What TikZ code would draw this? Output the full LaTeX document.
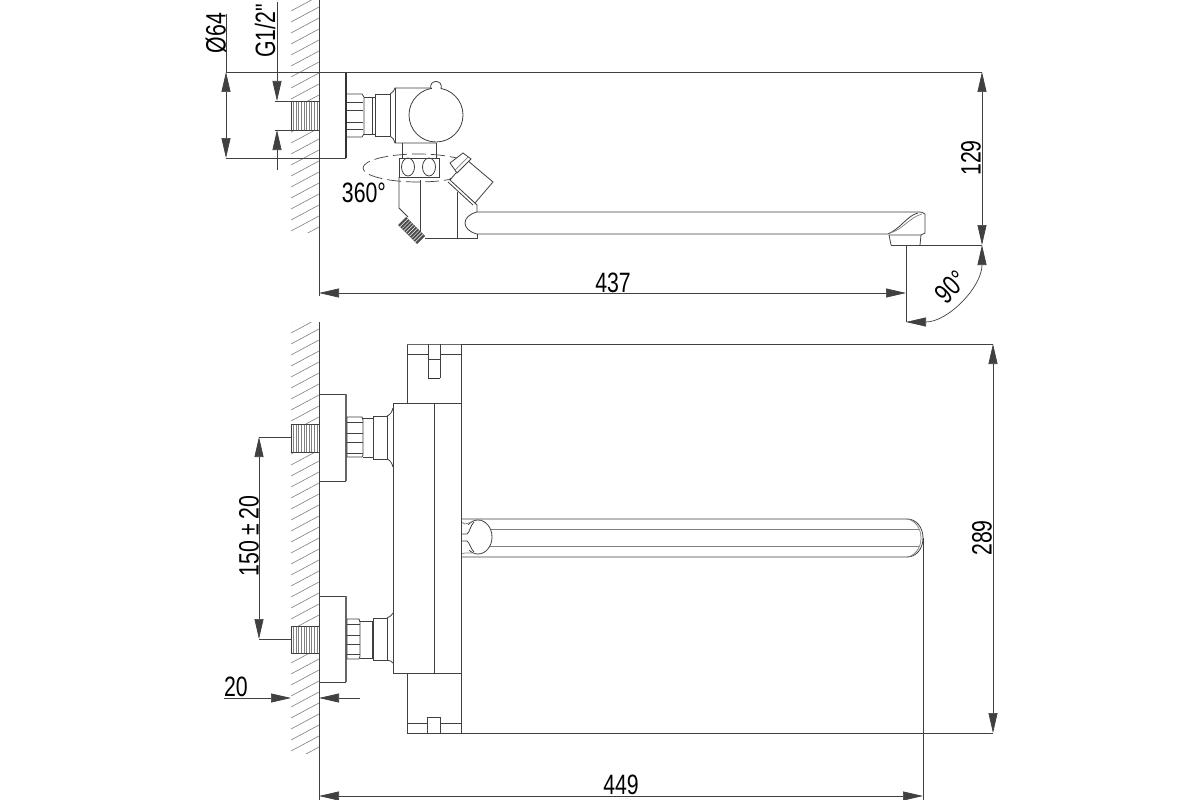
\documentclass[tikz,border=0pt]{standalone}
\usepackage{fontspec}
\newfontfamily\dimfont[FakeStretch=0.76]{Liberation Sans}
\usetikzlibrary{arrows.meta,calc}
\definecolor{inkline}{gray}{0.25}
\tikzset{
  partline/.style={draw=inkline,line width=0.8pt},
  lightline/.style={draw=black!50,line width=0.7pt},
  heavyline/.style={draw=black!80,line width=1.5pt},
  hatchline/.style={draw=black!50,line width=0.6pt},
  dimline/.style={draw=inkline,line width=0.7pt},
  dimboth/.style={dimline,{Triangle[length=20pt,width=9pt]}-{Triangle[length=20pt,width=9pt]}},
  dimend/.style={dimline,-{Triangle[length=20pt,width=9pt]}},
  dimtext/.style={inner sep=0pt,text=black,font=\dimfont\fontsize{28}{28}\selectfont},
}
% wall hatching between two heights
\newcommand{\wallhatch}[2]{
  \begin{scope}
    \clip (291,#1) rectangle (319,#2);
    \foreach \hi in {0,...,45}
      \draw[hatchline] (291,#1+11*\hi) -- (319,#1+11*\hi-15);
  \end{scope}
}
% threaded stub in the wall
\newcommand{\threadstub}[2]{
  \fill[white] (291,#1) rectangle (319,#2);
  \foreach \ti in {1,...,10}
    \draw[lightline] (291+2.6*\ti,#1) -- (291+2.6*\ti,#2);
  \draw[partline] (291,#1) rectangle (319,#2);
}
\begin{document}
\begin{tikzpicture}[x=1pt,y=-1pt]
\useasboundingbox (0,0) rectangle (1200,800);
\fill[white] (0,0) rectangle (1200,800);

% top view: wall
\wallhatch{0}{232}
\threadstub{101}{130}
\coordinate (wallT) at (319,0);
\coordinate (wallB) at (319,296);
\draw[partline] (wallT) -- (wallB);

% top view: plate and extension lines
\draw[partline] (319,158) -- (346,158);
\draw[heavyline] (346,72) -- (346,158);
\coordinate (topL) at (226,72);
\coordinate (topR) at (982,72);
\coordinate (plateL) at (226,158);
\coordinate (plateR) at (319,158);
\draw[dimline] (topL) -- (topR);
\draw[dimline] (plateL) -- (plateR);
\draw[dimline] (275,101) -- (291,101);
\draw[dimline] (275,130) -- (291,130);

% top view: nut and valve body
\draw[partline] (347,94) -- (362,94) -- (364,97) -- (364,134) -- (362,137) -- (347,137);
\draw[partline] (347,102) -- (363,102) (347,110) -- (363,110) (347,122) -- (363,122) (347,129) -- (363,129);
\draw[partline] (364,97) -- (372,97) -- (372,134) -- (364,134);
\draw[partline] (372,97) -- (375,97) (372,134) -- (375,134) (375,94) -- (375,136);
\draw[partline] (375,94) -- (390,94) (375,136) -- (390,136) (390,94) -- (390,136);
\draw[partline] (390,94) .. controls (393,93) and (394,90) .. (395,88) -- (431,88);
\draw[partline] (390,136) .. controls (393,137) and (394,140) .. (395,143) -- (436,143);
\draw[partline] (395,88) -- (395,143);
\draw[partline] (436,115) circle (27);
\fill[white] (431.5,86) rectangle (440.5,90);
\draw[partline] (431,89) .. controls (428,79) and (444,79) .. (441,89);

% top view: swivel and lower body
\draw[partline] (402,143) -- (402,158) (436,143) -- (436,158);
\draw[partline] (399,158) rectangle (439,177);
\draw[partline] (408,167) ellipse (6.5 and 9);
\draw[partline] (429,167) ellipse (6.5 and 9);
\draw[dimline,dash pattern=on 14pt off 5pt] (418,168) ellipse (55 and 14);
\draw[partline] (399,177) -- (399,208) -- (408,217);
\draw[partline] (420,180) -- (420,238);
\draw[partline] (457,192) -- (457,238);
\draw[partline] (425,238) -- (477,238) -- (477,234);
\draw[partline] (450,178) -- (477,205) -- (477,212);

% top view: handle
\fill[white] (450,180) -- (467,160) -- (493,182) -- (475,203) -- cycle;
\draw[partline] (450,180) -- (467,160) -- (493,182) -- (475,203) -- cycle;
\draw[partline] (448,182) -- (473,205);
\fill[white] (463,153) -- (471,159) -- (457,173) -- (450,163) -- cycle;
\draw[partline] (463,153) -- (471,159) -- (457,173) -- (450,163) -- cycle;
\draw[lightline] (455,170) -- (468,157);

% top view: hose thread
\fill[black!70] (406,217) -- (425,236) -- (417,244) -- (398,225) -- cycle;
\foreach \ts in {0.1,0.2,...,0.95}
  \draw[white,line width=0.5pt] ($(406,217)!\ts!(425,236)$) -- ($(398,225)!\ts!(417,244)$);

% top view: spout
\draw[partline] (477,212) -- (918,212) .. controls (921,212) and (923,212) .. (925,214) -- (925,233) -- (921,235) -- (920,245);
\draw[partline] (477,212) .. controls (461,216) and (461,230) .. (477,234) -- (888,234);
\draw[partline] (888,234) .. controls (900,229) and (908,215) .. (918,213);
\draw[lightline] (890,233) .. controls (902,230) and (910,217) .. (922,214);
\draw[partline] (889,235) -- (921,235) (889,235) -- (891,245);
\coordinate (mouthL) at (891,245);
\coordinate (mouthR) at (982,245);
\coordinate (mouthD) at (906,322);
\coordinate (mouthM) at (906,245);
\draw[dimline] (mouthL) -- (mouthR);
\draw[dimline] (mouthM) -- (mouthD);

% top view: dimensions
\coordinate (diaT) at (226,14);
\coordinate (gT) at (277,2);
\coordinate (gB) at (277,170);
\coordinate (gU) at (277,101);
\coordinate (gD) at (277,130);
\draw[dimline] (diaT) -- (topL);
\draw[dimboth] (topL) -- (plateL);
\draw[dimend] (gT) -- (gU);
\draw[dimend] (gB) -- (gD);
\draw[dimboth] (topR) -- (mouthR);
\coordinate (lenL) at (319,293);
\coordinate (lenR) at (906,293);
\draw[dimboth] (lenL) -- (lenR);
\draw[dimboth] (mouthR) .. controls (982,287) and (948,322) .. (mouthD);
\node[dimtext,rotate=90] (diaLabel) at (216,33) {Ø64};
\node[dimtext,rotate=90] (threadLabel) at (265,31) {G1/2"};
\node[dimtext] (swivelLabel) at (364,193) {360°};
\node[dimtext] (reachLabel) at (613,283) {437};
\node[dimtext,rotate=90] (heightLabel) at (971,158) {129};
\node[dimtext,rotate=45] (angleLabel) at (951,287) {90°};

% front view: wall
\wallhatch{322}{753}
\threadstub{424}{452}
\threadstub{626}{653}
\coordinate (wall2T) at (319,322);
\coordinate (wall2B) at (319,800);
\draw[partline] (wall2T) -- (wall2B);

% front view: plates
\draw[partline] (319,394) -- (346,394) (319,481) -- (346,481);
\draw[partline] (319,596) -- (346,596) (319,682) -- (346,682);
\draw[heavyline,draw=black!60] (346,394) -- (346,481) (346,596) -- (346,682);

% front view: upper connection
\draw[partline] (347,417) -- (362,417) -- (363,420) -- (363,455) -- (362,457) -- (347,457) -- cycle;
\draw[partline] (347,422) -- (363,422) (347,433) -- (363,433) (347,442) -- (363,442) (347,453) -- (363,453);
\draw[partline] (363,418) -- (373,418) (363,457) -- (373,457);
\draw[partline] (373,416) rectangle (387,459);
\draw[partline] (387,416) .. controls (390,415) and (392,412) .. (393,408);
\draw[partline] (387,459) .. controls (390,460) and (392,463) .. (393,467);

% front view: lower connection
\draw[partline] (347,619) -- (359,619) -- (360,622) -- (360,656) -- (359,659) -- (347,659) -- cycle;
\draw[partline] (347,624) -- (360,624) (347,635) -- (360,635) (347,644) -- (360,644) (347,654) -- (360,654);
\draw[partline] (360,621) -- (372,621) -- (372,658) -- (360,658);
\draw[partline] (373,618) rectangle (387,660);
\draw[partline] (387,618) .. controls (390,617) and (392,615) .. (393,613);
\draw[partline] (387,660) .. controls (390,661) and (392,661) .. (393,663);

% front view: body and end caps
\draw[partline] (393,403) rectangle (461,673);
\draw[partline] (434,403) -- (434,673);
\draw[partline] (407,344) rectangle (461,403);
\draw[partline] (407,673) rectangle (461,733);
\draw[heavyline,draw=black!60] (407,344.5) -- (461,344.5);
\draw[partline] (407,354) -- (428,354) (440,354) -- (461,354);
\draw[partline] (428,344) -- (428,378) (440,344) -- (440,378) (428,359) -- (440,359);
\draw[heavyline] (428,378.5) -- (440,378.5);
\draw[partline] (407,723) -- (427,723) (440,723) -- (461,723);
\draw[partline] (427,733) -- (427,717) -- (440,717) -- (440,733);

% front view: spout
\draw[partline] (461,519) -- (907,519) .. controls (916,519) and (923,527) .. (923,538) .. controls (923,549) and (916,557) .. (907,557) -- (461,557);
\draw[lightline] (907,519) .. controls (914,520) and (921,527) .. (921,538) .. controls (921,549) and (914,556) .. (907,557);
\draw[lightline] (490,529) -- (919,529) (490,546) -- (919,546);
\draw[partline] (478,537) ellipse (14 and 17);
\fill[white] (461,525) rectangle (470,550);
\draw[partline] (461,534) -- (467,534) .. controls (470,532) and (470,526) .. (474,522);
\draw[partline] (461,541) -- (467,541) .. controls (470,543) and (470,548) .. (474,552);
\draw[lightline] (461,522) -- (465,524) -- (472,522);
\draw[lightline] (461,554) -- (465,553) -- (472,553);
\draw[partline] (461,403) -- (461,673);

% front view: dimensions
\coordinate (capTopL) at (461,344);
\coordinate (capTopR) at (993,344);
\coordinate (capBotL) at (461,733);
\coordinate (capBotR) at (993,733);
\draw[dimline] (capTopL) -- (capTopR);
\draw[dimline] (capBotL) -- (capBotR);
\draw[dimboth] (capTopR) -- (capBotR);
\coordinate (tipT) at (923,538);
\coordinate (tipB) at (923,800);
\draw[dimline] (tipT) -- (tipB);
\coordinate (spanL) at (319,796);
\coordinate (spanR) at (923,796);
\draw[dimboth] (spanL) -- (spanR);
\coordinate (pipeU) at (259,437);
\coordinate (pipeD) at (259,639);
\draw[dimline] (pipeU) -- (291,437);
\draw[dimline] (pipeD) -- (291,639);
\draw[dimboth] (pipeU) -- (pipeD);
\coordinate (depthL) at (291,698);
\coordinate (depthR) at (319,698);
\draw[dimend] (224,698) -- (depthL);
\draw[dimend] (360,698) -- (depthR);
\node[dimtext] (spanLabel) at (621,785) {449};
\node[dimtext,rotate=90] (capLabel) at (982,538) {289};
\node[dimtext,rotate=90] (pipeLabel) at (249,536) {150\,±\,20};
\node[dimtext] (depthLabel) at (236,687) {20};
\end{tikzpicture}
\end{document}
